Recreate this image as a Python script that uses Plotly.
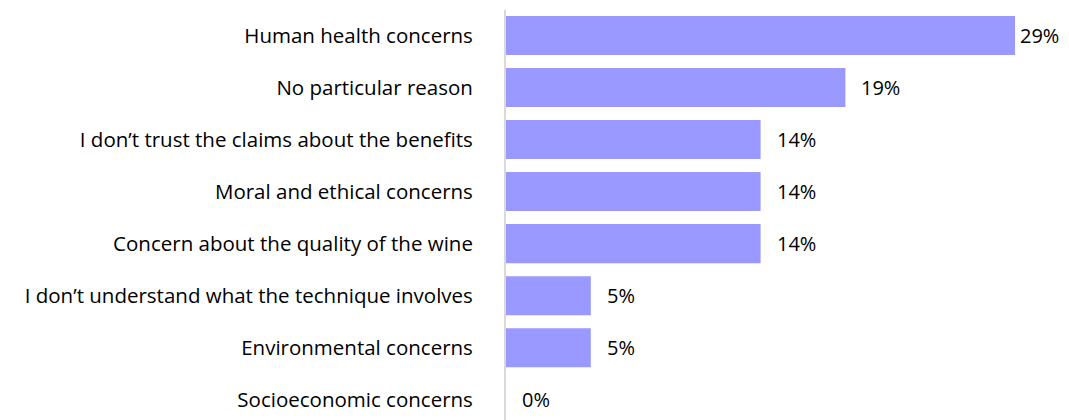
import plotly.graph_objects as go

# Reasons given (top to bottom) and share of respondents, in percent
reasons = [
    "Human health concerns",
    "No particular reason",
    "I don\u2019t trust the claims about the benefits",
    "Moral and ethical concerns",
    "Concern about the quality of the wine",
    "I don\u2019t understand what the technique involves",
    "Environmental concerns",
    "Socioeconomic concerns",
]
shares = [28.57, 19.05, 14.29, 14.29, 14.29, 4.76, 4.76, 0.0]

FONT = "Open Sans"
FONT_SIZE = 20.5
BAR_COLOR = "#9999FF"

fig = go.Figure(
    go.Bar(
        x=shares,
        y=reasons,
        orientation="h",
        marker=dict(color=BAR_COLOR, line=dict(width=0)),
        width=0.75,
        hoverinfo="skip",
    )
)

# Value labels to the right of each bar
for r, v in zip(reasons, shares):
    fig.add_annotation(
        x=v, y=r, xref="x", yref="y",
        text=f"{v:.0f}%",
        showarrow=False,
        xanchor="left", yanchor="middle",
        xshift=14 if v < 25 else 3,
        font=dict(family=FONT, size=FONT_SIZE - 0.5, color="#000000"),
    )

fig.update_layout(
    width=1069,
    height=420,
    margin=dict(l=506, r=0, t=10, b=0),
    paper_bgcolor="white",
    plot_bgcolor="white",
    showlegend=False,
    font=dict(family=FONT, size=FONT_SIZE, color="#000000"),
    xaxis=dict(
        range=[0, 31.6],
        showgrid=False,
        zeroline=False,
        showticklabels=False,
        showline=False,
        fixedrange=True,
    ),
    yaxis=dict(
        categoryorder="array",
        categoryarray=reasons,
        range=[7.39, -0.49],
        showgrid=False,
        zeroline=False,
        showline=True,
        linecolor="#D9D9D9",
        linewidth=2,
        ticks="",
        ticklabelstandoff=27,
        tickfont=dict(family=FONT, size=FONT_SIZE, color="#000000"),
        fixedrange=True,
    ),
)

fig.write_html("out.html")
